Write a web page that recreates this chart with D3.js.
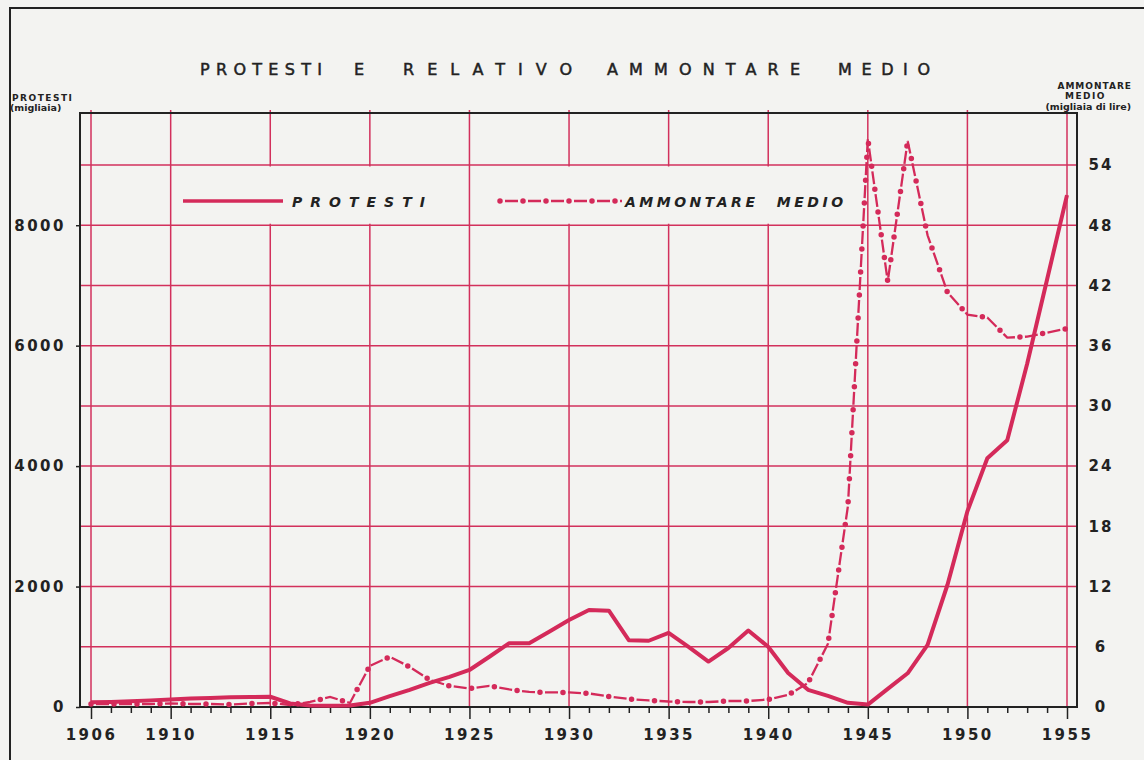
<!DOCTYPE html>
<html>
<head>
<meta charset="utf-8">
<script src="https://cdn.jsdelivr.net/npm/d3@7"></script>
<style>
  html, body { margin: 0; padding: 0; background: #f3f3f1; }
  svg { display: block; }
  text { font-family: "DejaVu Sans", sans-serif; fill: #222; }
</style>
</head>
<body>
<svg id="svg"></svg>
<script>
// Protesti e relativo ammontare medio, 1906-1955

const years = [1906, 1907, 1908, 1909, 1910, 1911, 1912, 1913, 1914, 1915,
  1916, 1917, 1918, 1919, 1920, 1921, 1922, 1923, 1924, 1925,
  1926, 1927, 1928, 1929, 1930, 1931, 1932, 1933, 1934, 1935,
  1936, 1937, 1938, 1939, 1940, 1941, 1942, 1943, 1944, 1945,
  1946, 1947, 1948, 1949, 1950, 1951, 1952, 1953, 1954, 1955];

// protesti, migliaia (left axis)
const protesti = [80, 85, 95, 110, 125, 140, 150, 160, 165, 170,
  60, 25, 20, 25, 70, 180, 285, 400, 500, 615,
  835, 1060, 1060, 1250, 1445, 1610, 1600, 1110, 1100, 1230,
  1000, 755, 980, 1270, 1000, 565, 285, 185, 70, 40,
  300, 560, 1030, 2030, 3250, 4130, 4430, 5700, 7100, 8500];

// ammontare medio, migliaia di lire (right axis)
const ammontare = [0.3, 0.3, 0.3, 0.3, 0.35, 0.3, 0.3, 0.25, 0.35, 0.4,
  0.2, 0.5, 1.0, 0.4, 4.1, 5.0, 4.0, 2.7, 2.1, 1.85,
  2.1, 1.75, 1.5, 1.45, 1.45, 1.35, 1.05, 0.8, 0.65, 0.55,
  0.5, 0.5, 0.6, 0.6, 0.75, 1.2, 2.4, 6.3, 20, 56.6,
  42.4, 56.4, 47.0, 41.3, 39.1, 38.8, 36.8, 36.9, 37.3, 37.7];

const yearLabels = [1906, 1910, 1915, 1920, 1925, 1930, 1935, 1940, 1945, 1950, 1955];
const leftTicks = [0, 2000, 4000, 6000, 8000];
const rightTicks = [0, 6, 12, 18, 24, 30, 36, 42, 48, 54];
const titleWords = ["PROTESTI", "E", "RELATIVO", "AMMONTARE", "MEDIO"];

const width = 1144;
const height = 760;
const red = "#d42a5a";
const gridRed = "#d2305c";
const ink = "#222";

const frame = { left: 80, right: 1077, top: 113, bottom: 707 };

const svg = d3.select("#svg").attr("width", width).attr("height", height);

svg.append("rect").attr("width", width).attr("height", height).attr("fill", "#f3f3f1");

// page border
svg.append("path")
    .attr("d", `M10,${height} L10,8 L${width},8`)
    .attr("fill", "none")
    .attr("stroke", ink)
    .attr("stroke-width", 2);

const x = d3.scaleLinear().domain([1906, 1955]).range([91, 1067]);
const yL = d3.scaleLinear().domain([0, 9000]).range([707, 165]);
const yR = d3.scaleLinear().domain([0, 54]).range([707, 165]);

// grid
const gGrid = svg.append("g");
const hLines = [1000, 2000, 3000, 4000, 5000, 6000, 7000, 8000, 9000];
gGrid.selectAll("line.h")
    .data(hLines)
    .join("line")
    .attr("class", "h")
    .attr("x1", frame.left)
    .attr("x2", frame.right)
    .attr("y1", (d) => yL(d))
    .attr("y2", (d) => yL(d))
    .attr("stroke", gridRed)
    .attr("stroke-width", 1.5);

gGrid.selectAll("line.v")
    .data(yearLabels)
    .join("line")
    .attr("class", "v")
    .attr("x1", (d) => x(d))
    .attr("x2", (d) => x(d))
    .attr("y1", frame.top - 3)
    .attr("y2", frame.bottom)
    .attr("stroke", gridRed)
    .attr("stroke-width", 1.5);

// legend panels hide the vertical grid lines
svg.append("rect")
    .attr("x", x(1910) + 1.5).attr("y", yL(9000) + 1.5)
    .attr("width", x(1925) - x(1910) - 3).attr("height", yL(8000) - yL(9000) - 3)
    .attr("fill", "#f3f3f1");
svg.append("rect")
    .attr("x", x(1925) + 1.5).attr("y", yL(9000) + 1.5)
    .attr("width", x(1945) - x(1925) - 3).attr("height", yL(8000) - yL(9000) - 3)
    .attr("fill", "#f3f3f1");

// frame
svg.append("rect")
    .attr("x", frame.left)
    .attr("y", frame.top)
    .attr("width", frame.right - frame.left)
    .attr("height", frame.bottom - frame.top)
    .attr("fill", "none")
    .attr("stroke", ink)
    .attr("stroke-width", 2);

// x axis
const xAxis = d3.axisBottom(x)
    .tickValues(years)
    .tickSize(6)
    .tickSizeOuter(0)
    .tickPadding(16)
    .tickFormat((d) => (yearLabels.includes(d) ? d : ""));

const gX = svg.append("g")
    .attr("transform", `translate(0,${frame.bottom})`)
    .call(xAxis);
gX.select(".domain").remove();
gX.selectAll(".tick line")
    .attr("stroke", ink)
    .attr("stroke-width", 1.5)
    .attr("y2", (d) => (yearLabels.includes(d) ? 12 : 6));
gX.selectAll(".tick text")
    .style("font-size", "15px")
    .style("font-weight", "bold")
    .style("letter-spacing", "2.5px")
    .attr("fill", ink);

// left axis
const gL = svg.append("g")
    .attr("transform", `translate(${frame.left},0)`)
    .call(d3.axisLeft(yL).tickValues(leftTicks).tickSize(4).tickPadding(10).tickFormat(d3.format("d")));
gL.select(".domain").remove();
gL.selectAll(".tick line").attr("stroke", ink).attr("stroke-width", 1.5);
gL.selectAll(".tick text")
    .style("font-size", "15px")
    .style("font-weight", "bold")
    .style("letter-spacing", "2.5px")
    .attr("fill", ink);

// right axis
const gR = svg.append("g")
    .attr("transform", `translate(${frame.right},0)`)
    .call(d3.axisRight(yR).tickValues(rightTicks).tickSize(0).tickPadding(24));
gR.select(".domain").remove();
gR.selectAll(".tick text")
    .attr("text-anchor", "middle")
    .style("font-size", "15px")
    .style("font-weight", "bold")
    .style("letter-spacing", "2px")
    .attr("fill", ink);

// axis titles
svg.append("text").attr("x", 12).attr("y", 101)
    .style("font-size", "9px").style("font-weight", "bold").style("letter-spacing", "1.5px")
    .text("PROTESTI");
svg.append("text").attr("x", 10).attr("y", 111)
    .style("font-size", "9.5px").style("font-weight", "bold")
    .text("(migliaia)");

svg.append("text").attr("x", 1132).attr("y", 89).attr("text-anchor", "end")
    .style("font-size", "9px").style("font-weight", "bold").style("letter-spacing", "1px")
    .text("AMMONTARE");
svg.append("text").attr("x", 1106).attr("y", 99).attr("text-anchor", "end")
    .style("font-size", "9px").style("font-weight", "bold").style("letter-spacing", "1.5px")
    .text("MEDIO");
svg.append("text").attr("x", 1131).attr("y", 110).attr("text-anchor", "end")
    .style("font-size", "9.5px").style("font-weight", "bold")
    .text("(migliaia di lire)");

// title, one word at a time, spread like the lettering of the original
const titleX = [200, 354, 403, 607, 838];
const titleW = [122, null, 169, 193, 92];
svg.append("g")
    .selectAll("text")
    .data(titleWords)
    .join("text")
    .attr("x", (d, i) => titleX[i])
    .attr("y", 75)
    .attr("textLength", (d, i) => titleW[i])
    .attr("lengthAdjust", (d, i) => (titleW[i] ? "spacing" : null))
    .style("font-size", "16px")
    .attr("stroke", ink)
    .attr("stroke-width", 0.5)
    .text((d) => d);

// series
const lineP = d3.line()
    .x((d, i) => x(years[i]))
    .y((d) => yL(d));
const lineA = d3.line()
    .x((d, i) => x(years[i]))
    .y((d) => yR(d));

function dashDot(g, d) {
    g.append("path")
        .attr("d", d)
        .attr("fill", "none")
        .attr("stroke", red)
        .attr("stroke-width", 2.3)
        .attr("stroke-dasharray", "0 5 13 5");
    g.append("path")
        .attr("d", d)
        .attr("fill", "none")
        .attr("stroke", red)
        .attr("stroke-width", 5.5)
        .attr("stroke-linecap", "round")
        .attr("stroke-dasharray", "0 23");
}

const gSeries = svg.append("g");
dashDot(gSeries, lineA(ammontare));

gSeries.append("path")
    .attr("d", lineP(protesti))
    .attr("fill", "none")
    .attr("stroke", red)
    .attr("stroke-width", 4)
    .attr("stroke-linejoin", "round");

// legend
const gLegend = svg.append("g");
const legY = 201;
gLegend.append("line")
    .attr("x1", 183).attr("x2", 283)
    .attr("y1", legY).attr("y2", legY)
    .attr("stroke", red).attr("stroke-width", 3.5);
gLegend.append("text")
    .attr("x", 292).attr("y", legY + 6)
    .style("font-size", "14px").style("font-weight", "bold").style("font-style", "italic")
    .style("letter-spacing", "8px")
    .text("PROTESTI");
dashDot(gLegend, `M500,${legY} L622,${legY}`);
gLegend.append("text")
    .attr("x", 625).attr("y", legY + 6)
    .style("font-size", "14px").style("font-weight", "bold").style("font-style", "italic")
    .style("letter-spacing", "3.5px")
    .style("word-spacing", "10px")
    .text("AMMONTARE MEDIO");
</script>
</body>
</html>
